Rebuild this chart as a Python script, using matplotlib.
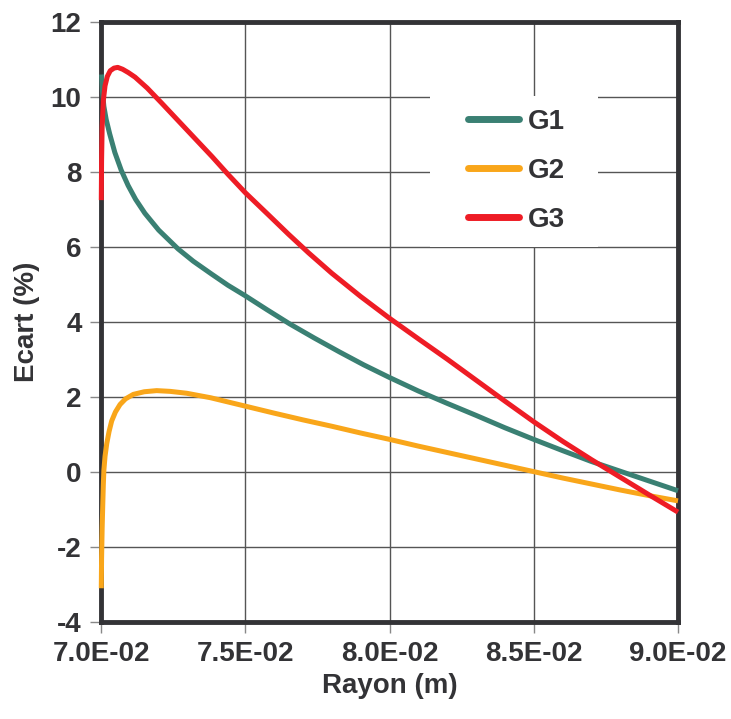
import matplotlib
matplotlib.use('Agg')
import matplotlib.pyplot as plt
from matplotlib.patches import Rectangle

plt.rcParams['font.family'] = ['Liberation Sans', 'DejaVu Sans']
plt.rcParams['axes.unicode_minus'] = False

# data
x_g1 = [0.07002, 0.07005, 0.07010, 0.07018, 0.07030, 0.07048, 0.07070, 0.07094,
        0.07120, 0.07152, 0.07200, 0.07267, 0.07320, 0.07383, 0.07440, 0.07500,
        0.07575, 0.07654, 0.07740, 0.07827, 0.07910, 0.08000, 0.08100, 0.08200,
        0.08300, 0.08400, 0.08500, 0.08600, 0.08700, 0.08800, 0.08900, 0.09000]
y_g1 = [10.6, 10.15, 9.75, 9.40, 9.02, 8.52, 8.05, 7.64,
        7.27, 6.90, 6.45, 5.95, 5.62, 5.28, 4.98, 4.70,
        4.33, 3.95, 3.57, 3.20, 2.86, 2.52, 2.16, 1.83,
        1.51, 1.18, 0.87, 0.57, 0.28, 0.02, -0.24, -0.50]

x_g2 = [0.07001, 0.07002, 0.07004, 0.07006, 0.07008, 0.07010, 0.07014, 0.07020,
        0.07028, 0.07037, 0.07050, 0.07066, 0.07085, 0.07112, 0.07150, 0.07193,
        0.07240, 0.07297, 0.07380, 0.07482, 0.07600, 0.07700, 0.07800, 0.07900,
        0.08000, 0.08100, 0.08200, 0.08300, 0.08400, 0.08500, 0.08600, 0.08700,
        0.08800, 0.08900, 0.09000]
y_g2 = [-3.1, -2.3, -1.5, -0.9, -0.35, 0.05, 0.42, 0.76,
        1.08, 1.36, 1.60, 1.80, 1.95, 2.07, 2.14, 2.17,
        2.15, 2.10, 1.98, 1.79, 1.57, 1.39, 1.22, 1.04,
        0.87, 0.69, 0.52, 0.35, 0.18, 0.01, -0.16, -0.32,
        -0.48, -0.63, -0.77]

x_g3 = [0.07001, 0.07002, 0.07004, 0.07008, 0.07014, 0.07022, 0.07032, 0.07045,
        0.07058, 0.07075, 0.07095, 0.07118, 0.07160, 0.07210, 0.07265, 0.07325,
        0.07385, 0.07440, 0.07500, 0.07580, 0.07650, 0.07720, 0.07800, 0.07900,
        0.08000, 0.08104, 0.08200, 0.08300, 0.08400, 0.08500, 0.08600, 0.08700,
        0.08800, 0.08900, 0.09000]
y_g3 = [7.25, 8.3, 9.2, 9.9, 10.3, 10.55, 10.7, 10.77,
        10.79, 10.74, 10.65, 10.53, 10.24, 9.84, 9.39, 8.90,
        8.41, 7.94, 7.45, 6.86, 6.34, 5.84, 5.30, 4.68,
        4.10, 3.53, 3.01, 2.45, 1.89, 1.34, 0.82, 0.33,
        -0.14, -0.61, -1.07]

xticks = [0.070, 0.075, 0.080, 0.085, 0.090]
xticklabels = ['7.0E-02', '7.5E-02', '8.0E-02', '8.5E-02', '9.0E-02']
yticks = [-4, -2, 0, 2, 4, 6, 8, 10, 12]

W, H = 731, 719
fig = plt.figure(figsize=(W / 100, H / 100), dpi=100)
ax = fig.add_axes([101 / W, 1 - 622 / H, 577 / W, 600 / H])

dark = '#333336'
for xs, ys, c, name in [(x_g1, y_g1, '#3a8073', 'G1'),
                        (x_g2, y_g2, '#f9a61a', 'G2'),
                        (x_g3, y_g3, '#ee1c25', 'G3')]:
    ax.plot(xs, ys, color=c, lw=3.6, label=name, solid_capstyle='butt',
            zorder=3, clip_on=False)

ax.set_xlim(0.070, 0.090)
ax.set_ylim(-4, 12)
ax.set_xticks(xticks)
ax.set_xticklabels(xticklabels)
ax.set_yticks(yticks)
ax.grid(True, color='#555555', lw=1.0)
ax.set_axisbelow(True)

for s in ax.spines.values():
    s.set_color(dark)
    s.set_linewidth(3.5)

ax.tick_params(direction='out', length=8, width=1, color='#888888',
               labelsize=20, labelcolor=dark, pad=6)
for lab in ax.get_xticklabels() + ax.get_yticklabels():
    lab.set_fontweight('bold')

ax.set_xlabel('Rayon (m)', fontsize=20, fontweight='bold', color=dark, labelpad=4)
ax.set_ylabel('Ecart (%)', fontsize=20, fontweight='bold', color=dark, labelpad=8)

# white box behind the legend, covering the grid
x0 = (430 - 101) / 577
x1 = (598 - 101) / 577
y0 = (622 - 247) / 600
y1 = (622 - 96) / 600
ax.add_patch(Rectangle((x0, y0), x1 - x0, y1 - y0, transform=ax.transAxes,
                       facecolor='white', edgecolor='none', zorder=1.5))

leg = ax.legend(loc='center left', bbox_to_anchor=((468 - 101) / 577, (622 - 171) / 600),
                frameon=False, fontsize=20, handlelength=1.85, handletextpad=0.3,
                labelspacing=0.82, borderpad=0, borderaxespad=0)
for t in leg.get_texts():
    t.set_fontweight('bold')
    t.set_color(dark)
for h in leg.get_lines():
    h.set_linewidth(5)
    h.set_solid_capstyle('round')

fig.savefig('out.png', dpi=100)
